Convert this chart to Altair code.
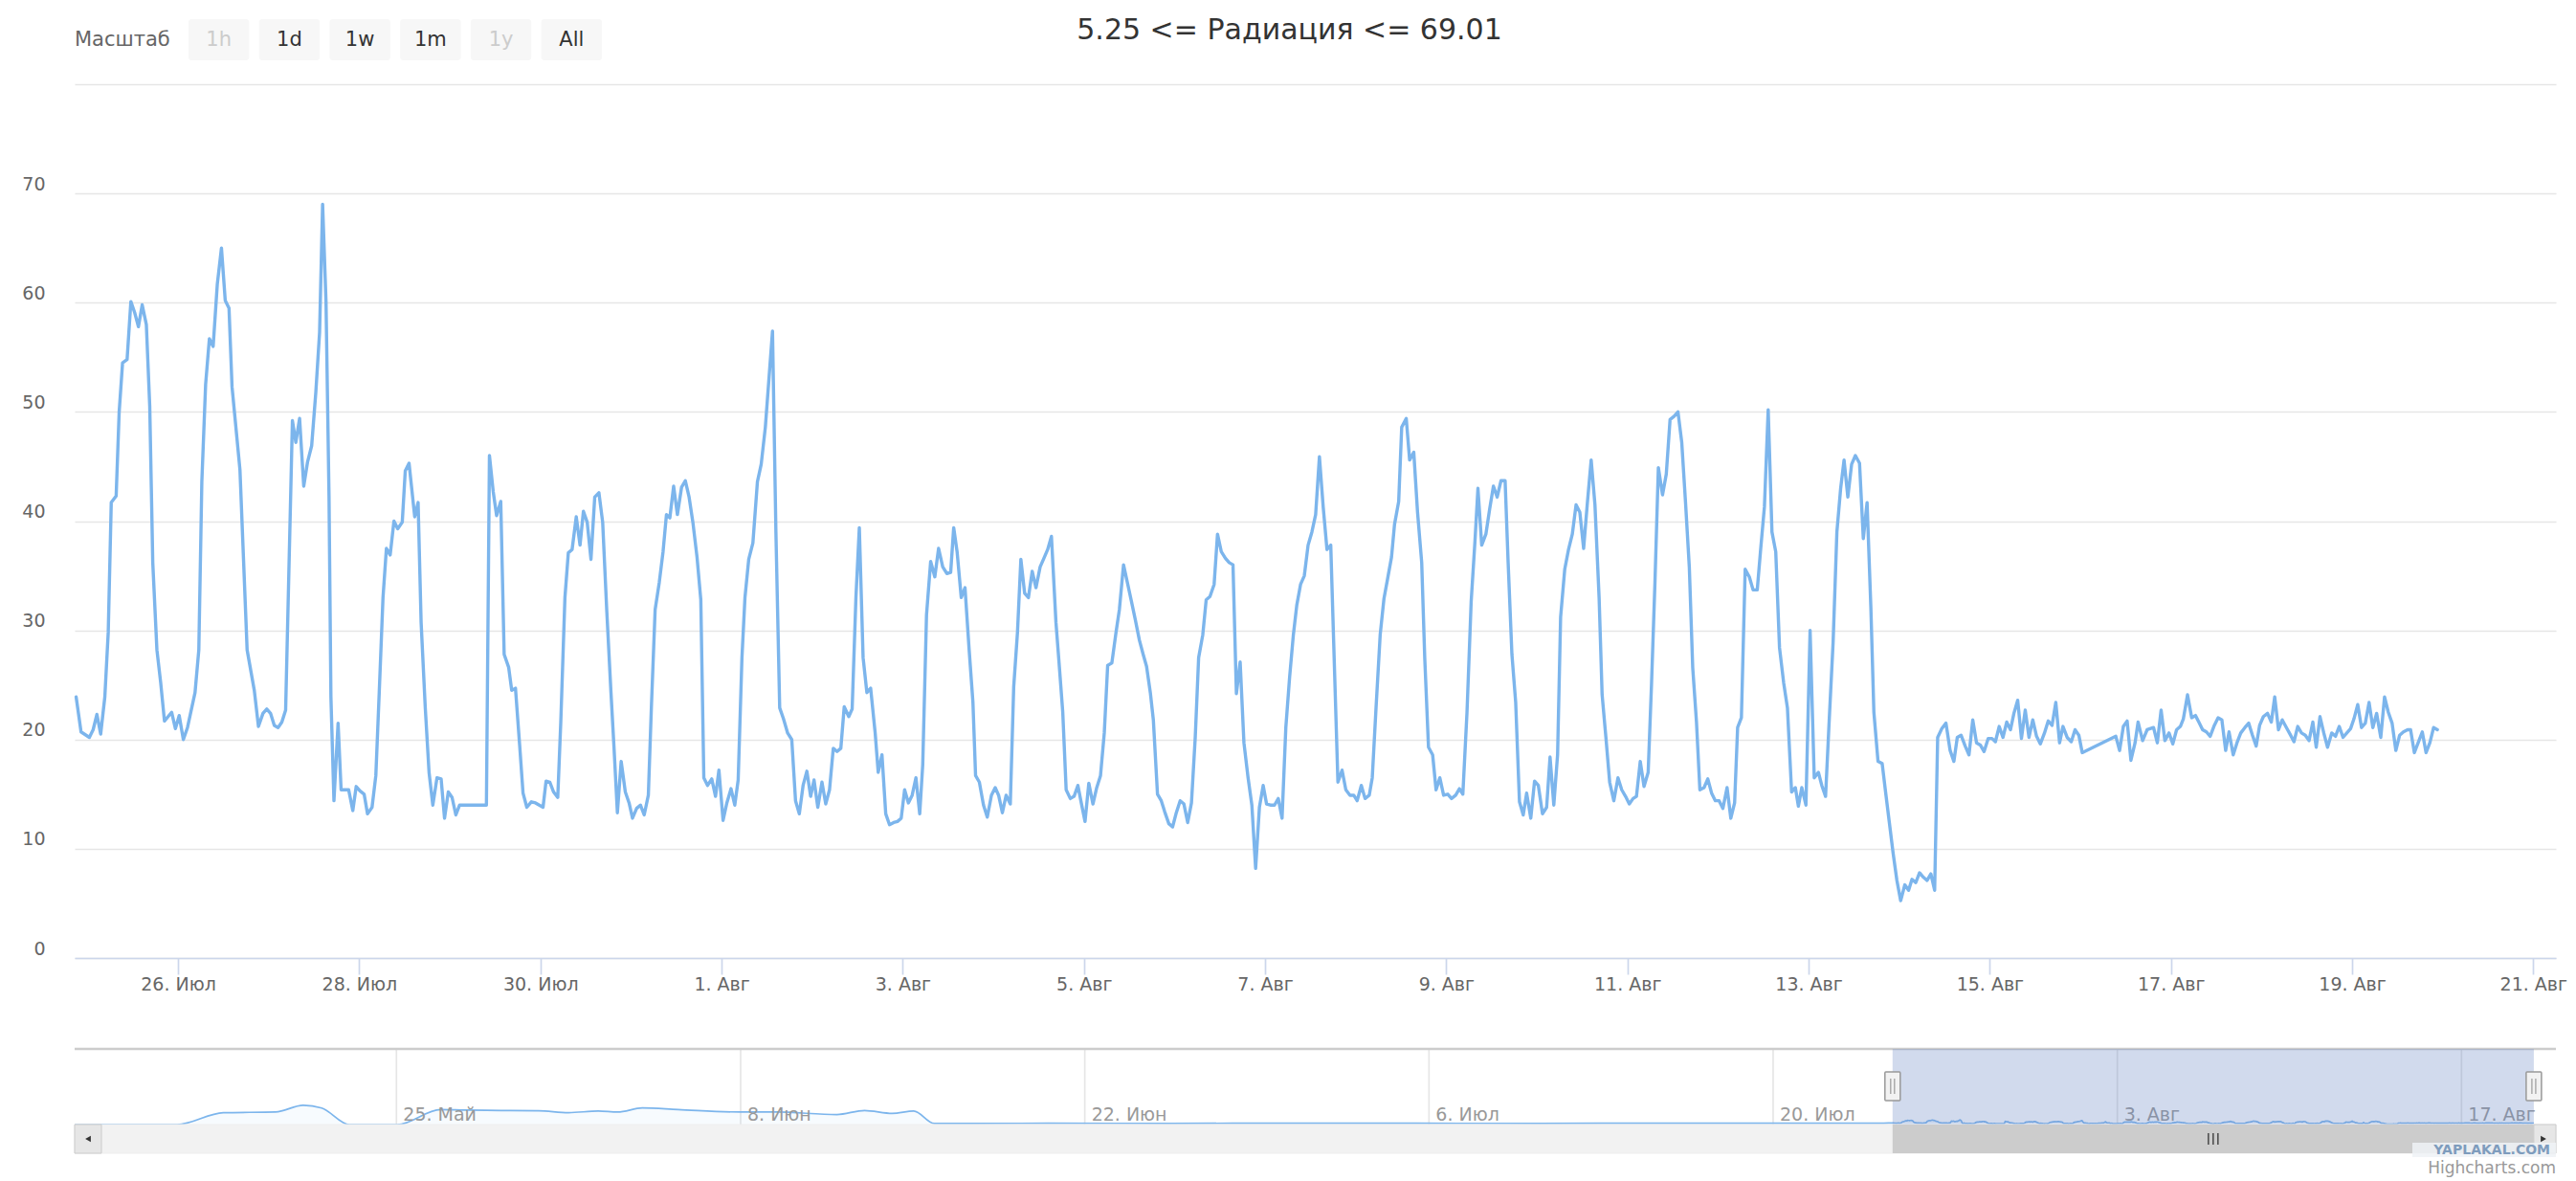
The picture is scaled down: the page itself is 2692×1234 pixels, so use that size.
import altair as alt
import pandas as pd

# ---------------- data ----------------
TITLE = "5.25 <= Радиация <= 69.01"
BASE_TIME = "2015-07-26 00:00"   # hours below are counted from this moment

# (hours after 26 Jul 00:00, radiation)
JUL24_28 = [(-27.0, 23.9), (-25.7, 20.7), (-23.5, 20.2), (-22.5, 20.9), (-21.5, 22.3), (-20.5, 20.5),
            (-19.4, 23.9), (-18.5, 29.8), (-17.7, 41.7), (-16.4, 42.3), (-15.6, 50.0), (-14.7, 54.5),
            (-13.5, 54.8), (-12.5, 60.1), (-11.5, 59.1), (-10.5, 57.8), (-9.5, 59.8), (-8.4, 58.0),
            (-7.5, 50.5), (-6.7, 36.2), (-5.6, 28.2), (-4.6, 25.2), (-3.6, 21.7), (-1.7, 22.5),
            (-0.7, 21.0), (0.3, 22.2), (1.4, 20.0), (2.5, 21.1), (4.5, 24.3), (5.5, 28.2), (6.3, 43.6),
            (7.3, 52.5), (8.3, 56.7), (9.3, 56.0), (10.4, 61.7), (11.5, 65.0), (12.5, 60.2), (13.5, 59.5),
            (14.3, 52.3), (16.4, 44.7), (18.3, 28.2), (20.2, 24.5), (21.3, 21.2), (22.5, 22.4),
            (23.5, 22.8), (24.5, 22.4), (25.5, 21.3), (26.5, 21.1), (27.5, 21.6), (28.5, 22.7),
            (30.3, 49.2), (31.2, 47.2), (32.2, 49.4), (33.3, 43.2), (34.3, 45.4), (35.4, 46.9),
            (36.5, 51.8), (37.5, 57.3), (38.3, 69.01), (39.2, 60.1), (40.0, 42.2), (40.5, 23.9),
            (41.3, 14.4), (42.4, 21.5), (43.2, 15.4), (45.2, 15.4), (46.3, 13.5), (47.2, 15.7),
            (48.2, 15.3), (49.3, 15.0), (50.2, 13.2), (51.4, 13.8), (52.4, 16.7), (53.3, 24.3),
            (54.3, 33.0), (55.2, 37.5), (56.2, 36.9), (57.2, 40.0), (58.2, 39.3), (59.4, 39.9),
            (60.2, 44.6), (61.2, 45.3)]
JUL28_01 = [(62.7, 40.4), (63.6, 41.7), (64.4, 30.7), (65.5, 22.9), (66.5, 17.0), (67.5, 14.0),
            (68.6, 16.5), (69.7, 16.4), (70.6, 12.8), (71.6, 15.2), (72.6, 14.7), (73.6, 13.1),
            (74.6, 14.0), (81.7, 14.0), (82.5, 46.0), (83.5, 42.7), (84.4, 40.5), (85.5, 41.8),
            (86.4, 27.8), (87.6, 26.6), (88.4, 24.5), (89.4, 24.7), (90.5, 19.5), (91.4, 15.1),
            (92.4, 13.8), (93.6, 14.3), (94.7, 14.2), (96.7, 13.8), (97.5, 16.2), (98.5, 16.1),
            (99.5, 15.2), (100.6, 14.7), (101.4, 21.6), (102.5, 33.0), (103.4, 37.1), (104.4, 37.4),
            (105.5, 40.4), (106.5, 37.8), (107.4, 40.9), (108.4, 39.9), (109.4, 36.5), (110.4, 42.2),
            (111.5, 42.6), (112.5, 39.9), (113.6, 31.7), (114.7, 24.3), (115.5, 19.3), (116.4, 13.3),
            (117.4, 18.0), (118.5, 15.2), (119.5, 14.2), (120.4, 12.8), (121.5, 13.7), (122.5, 14.0),
            (123.5, 13.1), (124.6, 14.9), (125.4, 22.9), (126.4, 31.9), (127.5, 34.4), (128.5, 37.2),
            (129.4, 40.6), (130.3, 40.3), (131.3, 43.2), (132.3, 40.6), (133.4, 43.1), (134.4, 43.7),
            (135.4, 42.2), (136.4, 39.9), (137.5, 36.7), (138.5, 32.8), (139.3, 16.5), (140.3, 15.8),
            (141.4, 16.4), (142.4, 14.8), (143.3, 17.2), (144.4, 12.6), (145.4, 14.2), (146.5, 15.5),
            (147.5, 14.0), (148.4, 16.3), (149.4, 27.5), (150.2, 33.0), (151.2, 36.5), (152.3, 38.0),
            (153.5, 43.6)]
AUG01_05 = [(154.5, 45.2), (155.6, 48.6), (156.7, 53.7), (157.5, 57.4), (158.4, 39.0), (159.4, 22.9),
            (160.4, 21.9), (161.5, 20.6), (162.6, 20.0), (163.6, 14.4), (164.6, 13.2), (165.6, 15.8),
            (166.6, 17.1), (167.6, 14.8), (168.5, 16.3), (169.5, 13.8), (170.6, 16.1), (171.6, 14.1),
            (172.6, 15.4), (173.6, 19.2), (174.6, 18.9), (175.6, 19.2), (176.5, 23.0), (177.7, 22.1),
            (178.6, 22.8), (179.6, 33.0), (180.5, 39.4), (181.5, 27.5), (182.5, 24.3), (183.5, 24.7),
            (184.7, 20.6), (185.5, 17.0), (186.5, 18.6), (187.5, 13.2), (188.5, 12.2), (189.6, 12.4),
            (190.6, 12.5), (191.6, 12.8), (192.5, 15.4), (193.5, 14.2), (194.5, 14.9), (195.5, 16.5),
            (196.5, 13.2), (197.3, 17.7), (198.3, 31.4), (199.4, 36.3), (200.5, 34.9), (201.5, 37.5),
            (202.6, 35.8), (203.7, 35.2), (204.7, 35.3), (205.5, 39.4), (206.4, 37.2), (207.5, 33.0),
            (208.5, 33.9), (209.6, 28.2), (210.6, 23.4), (211.3, 16.7), (212.3, 16.1), (213.4, 14.0),
            (214.4, 12.9), (215.5, 14.9), (216.5, 15.6), (217.4, 14.9), (218.4, 13.3), (219.4, 14.9),
            (220.5, 14.1), (221.4, 24.8), (222.4, 29.8), (223.3, 36.5), (224.3, 33.4), (225.3, 33.0),
            (226.3, 35.4), (227.3, 33.9), (228.4, 35.8), (229.4, 36.6), (230.4, 37.4), (231.4, 38.6),
            (232.6, 30.7), (233.4, 27.1), (234.4, 22.5), (235.3, 15.4), (236.4, 14.6), (237.4, 14.8),
            (238.4, 15.8), (239.3, 14.2), (240.3, 12.5), (241.3, 16.0), (242.4, 14.1), (243.4, 15.6),
            (244.4, 16.7)]
AUG05_09 = [(245.4, 20.6), (246.3, 26.8), (247.4, 27.0), (248.5, 29.8), (249.4, 31.9), (250.5, 36.0),
            (251.5, 34.4), (252.5, 32.8), (253.6, 31.0), (254.7, 29.1), (255.7, 27.8), (256.6, 26.7),
            (257.6, 24.3), (258.4, 21.8), (259.5, 15.0), (260.5, 14.4), (261.4, 13.4), (262.5, 12.3),
            (263.5, 12.0), (264.4, 13.2), (265.5, 14.4), (266.5, 14.1), (267.5, 12.4), (268.5, 14.2),
            (269.5, 20.2), (270.4, 27.5), (271.5, 29.6), (272.4, 32.8), (273.4, 33.1), (274.5, 34.2),
            (275.4, 38.8), (276.4, 37.2), (277.5, 36.6), (278.5, 36.2), (279.5, 36.0), (280.4, 24.2),
            (281.4, 27.1), (282.4, 19.7), (283.5, 16.5), (284.5, 14.0), (285.5, 8.2), (286.5, 13.8),
            (287.5, 15.8), (288.4, 14.1), (289.4, 14.0), (290.5, 14.0), (291.5, 14.6), (292.5, 12.8),
            (293.5, 21.1), (294.5, 25.7), (295.5, 29.6), (296.4, 32.3), (297.4, 34.2), (298.4, 35.0),
            (299.4, 37.8), (300.4, 39.0), (301.4, 40.6), (302.4, 45.9), (303.4, 41.3), (304.4, 37.4),
            (305.4, 37.8), (306.3, 27.5), (307.3, 16.1), (308.4, 17.2), (309.4, 15.4), (310.5, 14.9),
            (311.5, 14.9), (312.4, 14.4), (313.5, 15.8), (314.5, 14.6), (315.6, 14.9), (316.4, 16.5),
            (317.4, 22.9), (318.5, 29.6), (319.5, 32.9), (320.4, 34.6), (321.5, 36.7), (322.3, 39.7),
            (323.4, 41.8), (324.2, 48.6), (325.4, 49.4), (326.3, 45.6), (327.4, 46.3), (328.4, 40.8),
            (329.5, 36.2), (330.3, 27.5), (331.3, 19.3), (332.4, 18.6), (333.3, 15.4), (334.3, 16.5),
            (335.3, 14.9), (336.4, 15.0), (337.4, 14.6), (338.5, 14.9), (339.5, 15.5), (340.4, 15.0)]
AUG09_13 = [(341.5, 22.5), (342.6, 32.6), (343.6, 38.1), (344.4, 43.0), (345.4, 37.8), (346.5, 38.8),
            (347.5, 41.1), (348.5, 43.2), (349.5, 42.2), (350.5, 43.7), (351.6, 43.7), (352.4, 36.2),
            (353.4, 27.8), (354.4, 23.4), (355.4, 14.3), (356.4, 13.1), (357.3, 15.1), (358.4, 12.8),
            (359.4, 16.2), (360.4, 15.8), (361.5, 13.2), (362.6, 13.8), (363.5, 18.4), (364.5, 14.0),
            (365.5, 18.6), (366.3, 31.2), (367.4, 35.6), (368.4, 37.4), (369.4, 38.8), (370.4, 41.5),
            (371.4, 40.8), (372.4, 37.5), (373.4, 41.7), (374.4, 45.6), (375.4, 41.5), (376.5, 33.0),
            (377.3, 24.1), (378.3, 20.2), (379.3, 16.1), (380.4, 14.4), (381.5, 16.5), (382.5, 15.4),
            (383.5, 14.8), (384.5, 14.1), (385.5, 14.6), (386.4, 14.8), (387.4, 18.0), (388.4, 15.7),
            (389.5, 17.0), (390.4, 25.2), (391.3, 34.4), (392.2, 44.9), (393.3, 42.4), (394.3, 44.3),
            (395.3, 49.3), (396.4, 49.6), (397.4, 50.0), (398.4, 47.2), (399.4, 41.7), (400.4, 35.8),
            (401.3, 26.6), (402.3, 21.6), (403.2, 15.4), (404.3, 15.6), (405.3, 16.4), (406.3, 15.1),
            (407.3, 14.4), (408.3, 14.4), (409.3, 13.7), (410.4, 15.6), (411.4, 12.8), (412.4, 14.2),
            (413.2, 21.1), (414.2, 22.0), (415.2, 35.6), (416.3, 34.9), (417.3, 33.7), (418.4, 33.7),
            (419.3, 37.4), (420.3, 41.3), (421.3, 50.2), (422.3, 39.0), (423.3, 37.2), (424.3, 28.4),
            (425.4, 25.2), (426.4, 22.9), (427.5, 15.2), (428.5, 15.6), (429.3, 13.9), (430.2, 15.6),
            (431.3, 14.0)]
AUG13_17 = [(432.4, 30.0), (433.5, 16.5), (434.6, 17.0), (435.5, 15.8), (436.5, 14.8), (437.5, 22.0),
            (438.5, 28.9), (439.5, 39.0), (440.5, 43.0), (441.4, 45.6), (442.4, 42.2), (443.4, 45.2),
            (444.4, 46.0), (445.5, 45.3), (446.5, 38.4), (447.5, 41.7), (448.5, 32.1), (449.3, 22.5),
            (450.4, 18.0), (451.5, 17.8), (452.4, 15.2), (453.4, 12.4), (454.4, 9.6), (455.4, 7.1),
            (456.4, 5.25), (457.5, 6.7), (458.5, 6.2), (459.4, 7.2), (460.4, 6.9), (461.4, 7.8),
            (462.4, 7.4), (463.4, 7.1), (464.4, 7.7), (465.4, 6.2), (466.2, 20.2), (467.3, 21.0),
            (468.4, 21.5), (469.5, 19.0), (470.5, 18.0), (471.4, 20.2), (472.4, 20.4), (473.5, 19.4),
            (474.5, 18.6), (475.5, 21.8), (476.5, 19.7), (477.5, 19.5), (478.5, 18.9), (479.6, 20.1),
            (480.6, 20.1), (481.5, 19.8), (482.5, 21.2), (483.5, 20.2), (484.5, 21.6), (485.5, 20.9),
            (486.4, 22.4), (487.4, 23.6), (488.4, 20.1), (489.4, 22.7), (490.4, 20.2), (491.4, 21.8),
            (492.4, 20.3), (493.4, 19.6), (494.5, 20.6), (495.5, 21.7), (496.5, 21.3), (497.5, 23.4),
            (498.5, 19.7), (499.4, 21.2), (500.5, 20.2), (501.6, 19.8), (502.6, 20.9), (503.6, 20.4),
            (504.5, 18.8), (513.4, 20.3), (514.4, 19.0), (515.4, 21.2), (516.4, 21.7), (517.4, 18.1),
            (518.5, 19.7)]
AUG17_20 = [(519.3, 21.6), (520.5, 19.9), (521.7, 20.9), (523.4, 21.1), (524.4, 19.7), (525.4, 22.7),
            (526.4, 19.9), (527.5, 20.6), (528.5, 19.6), (529.5, 20.9), (530.5, 21.2), (531.3, 21.9),
            (532.4, 24.1), (533.5, 22.0), (534.5, 22.2), (535.4, 21.6), (536.4, 20.9), (537.4, 20.7),
            (538.4, 20.3), (539.5, 21.3), (540.5, 22.0), (541.5, 21.8), (542.5, 19.0), (543.4, 20.7),
            (544.5, 18.6), (545.5, 19.7), (546.5, 20.6), (547.6, 21.1), (548.6, 21.5), (549.6, 20.4),
            (550.6, 19.4), (551.5, 21.3), (552.5, 22.1), (553.6, 22.4), (554.6, 21.6), (555.5, 23.9),
            (556.5, 20.9), (557.5, 21.8), (558.6, 21.1), (559.7, 20.4), (560.6, 19.8), (561.6, 21.2),
            (562.6, 20.6), (563.6, 20.4), (564.6, 19.9), (565.6, 21.6), (566.5, 19.3), (567.5, 22.1),
            (568.5, 20.6), (569.5, 19.3), (570.6, 20.6), (571.6, 20.3), (572.6, 21.2), (573.6, 20.2),
            (574.6, 20.6), (575.6, 21.0), (576.5, 21.9), (577.5, 23.2), (578.5, 21.1), (579.5, 21.5),
            (580.5, 23.4), (581.5, 21.1), (582.5, 22.4), (583.6, 20.2), (584.6, 23.9), (585.6, 22.5),
            (586.6, 21.5), (587.6, 19.0), (588.6, 20.4), (589.6, 20.7), (590.7, 20.9), (591.5, 20.9),
            (592.5, 18.8), (593.5, 19.7), (594.6, 20.7), (595.6, 18.8), (596.6, 19.7), (597.6, 21.1),
            (598.6, 20.9)]

# older history shown only in the navigator (time, value)
NAV_HISTORY_TIMES = ["2015-05-11 22:00", "2015-05-16 02:00", "2015-05-17 23:00", "2015-05-20 02:00",
                     "2015-05-21 05:00", "2015-05-21 23:00", "2015-05-23 02:00", "2015-05-25 01:00",
                     "2015-05-26 19:00", "2015-05-27 19:00", "2015-05-29 06:00", "2015-05-30 19:00",
                     "2015-06-01 00:00", "2015-06-02 05:00", "2015-06-03 00:00", "2015-06-04 00:00",
                     "2015-06-05 11:00", "2015-06-07 23:00", "2015-06-09 10:00", "2015-06-11 22:00",
                     "2015-06-13 01:00", "2015-06-14 04:00", "2015-06-15 01:00", "2015-06-15 21:00",
                     "2015-06-20 12:00", "2015-06-25 12:00", "2015-06-30 12:00", "2015-07-05 12:00",
                     "2015-07-10 12:00", "2015-07-15 12:00", "2015-07-20 12:00", "2015-07-24 12:00"]
NAV_HISTORY_VALUES = [0, 0, 173, 182, 280, 241, 0, 0, 218, 210, 205, 201, 173, 196, 182, 241, 218, 182,
                      182, 145, 205, 163, 196, 15, 18, 17, 19, 18, 17, 19, 18, 20]

MAIN_RANGE = ["2015-07-24 20:36", "2015-08-21 06:00"]
NAV_RANGE = ["2015-05-11 21:50", "2015-08-20 20:10"]
MAIN_TICKS = ["2015-07-26", "2015-07-28", "2015-07-30", "2015-08-01", "2015-08-03", "2015-08-05",
              "2015-08-07", "2015-08-09", "2015-08-11", "2015-08-13", "2015-08-15", "2015-08-17",
              "2015-08-19", "2015-08-21"]
NAV_TICKS = ["2015-05-25", "2015-06-08", "2015-06-22", "2015-07-06", "2015-07-20", "2015-08-03",
             "2015-08-17"]
Y_TICKS = [0, 10, 20, 30, 40, 50, 60, 70, 80]
MONTHS_RU = ['Янв', 'Фев', 'Мар', 'Апр', 'Май', 'Июн', 'Июл', 'Авг', 'Сен', 'Окт', 'Ноя', 'Дек']
BUTTONS = ["1h", "1d", "1w", "1m", "1y", "All"]
BUTTON_STATE = ["off", "on", "on", "on", "off", "on"]
ZOOM_LABEL = "Масштаб"

# ---------------- build tables ----------------
FONT = "DejaVu Sans"
W = 2593
MAIN_H = 913
NAV_H = 179

pairs = JUL24_28 + JUL28_01 + AUG01_05 + AUG05_09 + AUG09_13 + AUG13_17 + AUG17_20
base = pd.Timestamp(BASE_TIME)
main_df = pd.DataFrame({
    "t": (base + pd.to_timedelta([p[0] for p in pairs], unit="h")).round("min"),
    "v": [p[1] for p in pairs],
})
hist_df = pd.DataFrame({"t": pd.to_datetime(NAV_HISTORY_TIMES), "v": NAV_HISTORY_VALUES})
nav_df = pd.concat([hist_df, main_df], ignore_index=True)

def dt(ts):
    t = pd.Timestamp(ts)
    return alt.DateTime(year=t.year, month=t.month, date=t.day, hours=t.hour, minutes=t.minute)

month_expr = "[" + ",".join("'" + m + "'" for m in MONTHS_RU) + "]"
date_label_expr = "date(datum.value) + '. ' + " + month_expr + "[month(datum.value)]"

nav_start = pd.Timestamp(NAV_RANGE[0])
nav_end = pd.Timestamp(NAV_RANGE[1])
sel_start = pd.Timestamp(MAIN_RANGE[0])
data_end = main_df["t"].max()
frame_df = pd.DataFrame({
    "start": [nav_start], "end": [nav_end], "sel": [sel_start], "dend": [data_end],
    "mid": [sel_start + (data_end - sel_start) / 2],
})
handle_df = pd.DataFrame({"t": [sel_start, data_end]})
navtick_df = pd.DataFrame({"t": pd.to_datetime(NAV_TICKS)})
navtick_df["label"] = [f"{d.day}. {MONTHS_RU[d.month - 1]}" for d in navtick_df["t"]]

# ---------------- header (range selector + title) ----------------
btn_df = pd.DataFrame({"btn": BUTTONS, "state": BUTTON_STATE})
btn_x = alt.X("btn:N", scale=alt.Scale(domain=BUTTONS, range=[119, 551], paddingInner=0.14, paddingOuter=0),
              axis=None)
header_rect = alt.Chart(btn_df).mark_rect(fill="#f7f7f7", cornerRadius=3).encode(x=btn_x)
header_text = alt.Chart(btn_df).mark_text(font=FONT, fontSize=21, baseline="middle").encode(
    x=btn_x, text="btn:N",
    color=alt.Color("state:N", scale=alt.Scale(domain=["on", "off"], range=["#333333", "#cccccc"]), legend=None),
)
header_lbl = alt.Chart(pd.DataFrame({"s": [ZOOM_LABEL]})).mark_text(
    font=FONT, fontSize=21, align="left", baseline="middle", color="#666666"
).encode(x=alt.value(0), text="s:N")
header = alt.layer(header_rect, header_text, header_lbl).properties(
    width=W, height=43,
    title=alt.TitleParams(TITLE, font=FONT, fontSize=30, fontWeight="normal", color="#333333",
                          anchor="middle", baseline="middle", offset=-42, dx=-27),
)

# ---------------- main chart ----------------
main = alt.Chart(main_df).mark_line(color="#7cb5ec", strokeWidth=3.4, strokeJoin="round", strokeCap="round").encode(
    x=alt.X("t:T", scale=alt.Scale(domain=[dt(MAIN_RANGE[0]), dt(MAIN_RANGE[1])], nice=False),
            axis=alt.Axis(values=[dt(d) for d in MAIN_TICKS], labelExpr=date_label_expr, title=None,
                          grid=False, domainColor="#ccd6eb", domainWidth=1.7, tickColor="#ccd6eb",
                          tickWidth=1.7, tickSize=17, labelPadding=1, labelFont=FONT, labelFontSize=19,
                          labelColor="#666666", labelFlush=False, labelOverlap=False)),
    y=alt.Y("v:Q", scale=alt.Scale(domain=[0, 80], nice=False),
            axis=alt.Axis(values=Y_TICKS, labelExpr="datum.value >= 80 ? '' : datum.label", title=None,
                          grid=True, gridColor="#e6e6e6", gridWidth=1.7, domain=False, ticks=False,
                          tickSize=0, labelAlign="right", labelBaseline="bottom", labelPadding=31,
                          labelFont=FONT, labelFontSize=19, labelColor="#666666")),
).properties(width=W, height=MAIN_H)

# ---------------- navigator + scrollbar ----------------
NXS = alt.Scale(domain=[dt(NAV_RANGE[0]), dt(NAV_RANGE[1])], nice=False)
NYS = alt.Scale(domain=[0, 1100], range=[149, 70], nice=False, zero=False)

def nx(field):
    return alt.X(field, type="temporal", scale=NXS, axis=None)

def ny(v):
    return alt.Y(datum=v, type="quantitative", scale=NYS, axis=None)

nav_grid = alt.Chart(navtick_df).mark_rule(color="#e6e6e6", strokeWidth=1.7).encode(
    x=nx("t"), y=ny(0), y2=alt.Y2(datum=1100))
nav_area = alt.Chart(nav_df).mark_area(
    interpolate="monotone", color="#7cb5ec", fillOpacity=0.06,
    line={"color": "#7cb5ec", "strokeWidth": 1.7},
).encode(x=nx("t"), y=alt.Y("v:Q", scale=NYS, axis=None))
nav_lbl = alt.Chart(navtick_df).mark_text(
    font=FONT, fontSize=19, align="left", baseline="bottom", dx=7, color="#999999"
).encode(x=nx("t"), y=ny(0), text="label:N")
nav_top = alt.Chart(frame_df).mark_rule(color="#cccccc", strokeWidth=2.5).encode(
    x=nx("start"), x2="end:T", y=ny(1100))
nav_mask = alt.Chart(frame_df).mark_rect(color="#6685c2", opacity=0.3).encode(
    x=nx("sel"), x2="dend:T", y=ny(1100), y2=alt.Y2(datum=0))
handle_box = alt.Chart(handle_df).mark_rect(
    fill="#f2f2f2", stroke="#999999", strokeWidth=1.5, xOffset=-8, x2Offset=8, cornerRadius=1
).encode(x=nx("t"), x2="t:T", y=alt.value(94), y2=alt.value(124))
handle_l1 = alt.Chart(handle_df).mark_rule(color="#999999", strokeWidth=1.2, xOffset=-2).encode(
    x=nx("t"), y=alt.value(101), y2=alt.value(117))
handle_l2 = alt.Chart(handle_df).mark_rule(color="#999999", strokeWidth=1.2, xOffset=2).encode(
    x=nx("t"), y=alt.value(101), y2=alt.value(117))

sb_track = alt.Chart(frame_df).mark_rect(fill="#f2f2f2", stroke="#eeeeee").encode(
    x=nx("start"), x2="end:T", y=alt.value(149), y2=alt.value(179))
sb_thumb = alt.Chart(frame_df).mark_rect(fill="#cccccc").encode(
    x=nx("sel"), x2="dend:T", y=alt.value(149), y2=alt.value(179))
sb_left = alt.Chart(frame_df).mark_rect(fill="#e6e6e6", stroke="#cccccc", x2Offset=28).encode(
    x=nx("start"), x2="start:T", y=alt.value(149), y2=alt.value(179))
sb_right = alt.Chart(frame_df).mark_rect(fill="#e6e6e6", stroke="#cccccc").encode(
    x=nx("dend"), x2="end:T", y=alt.value(149), y2=alt.value(179))
sb_arrow_l = alt.Chart(frame_df).mark_point(shape="triangle-left", filled=True, size=45, color="#333333",
                                            opacity=1, xOffset=14).encode(x=nx("start"), y=alt.value(164))
sb_arrow_r = alt.Chart(frame_df).mark_point(shape="triangle-right", filled=True, size=45, color="#333333",
                                            opacity=1, xOffset=-13).encode(x=nx("end"), y=alt.value(164))
grips = [
    alt.Chart(frame_df).mark_rule(color="#333333", strokeWidth=1.3, xOffset=o).encode(
        x=nx("mid"), y=alt.value(158), y2=alt.value(170))
    for o in (-5, 0, 5)
]
wm_box = alt.Chart(frame_df).mark_rect(fill="#eef2f6", opacity=0.85, xOffset=-150).encode(
    x=nx("end"), x2="end:T", y=alt.value(168), y2=alt.value(183))
wm_text = alt.Chart(frame_df).mark_text(
    font=FONT, fontSize=14, fontWeight="bold", align="right", baseline="middle", color="#7e9cbd", dx=-6
).encode(x=nx("end"), y=alt.value(175.5), text=alt.value("YAPLAKAL.COM"))
credits = alt.Chart(frame_df).mark_text(
    font=FONT, fontSize=17, align="right", baseline="middle", color="#999999"
).encode(x=nx("end"), y=alt.value(195), text=alt.value("Highcharts.com"))

nav = alt.layer(
    nav_grid, nav_area, nav_lbl, nav_top, nav_mask, handle_box, handle_l1, handle_l2,
    sb_track, sb_thumb, sb_left, sb_right, sb_arrow_l, sb_arrow_r, *grips, wm_box, wm_text, credits,
).properties(width=W, height=NAV_H)

chart = alt.vconcat(header, main, nav, spacing=25, bounds="flush").properties(
    padding={"left": 14, "top": 8, "right": 0, "bottom": 0},
    background="white",
).configure_view(stroke="transparent")

chart.save("out.html", embed_options={"renderer": "svg", "actions": False})
